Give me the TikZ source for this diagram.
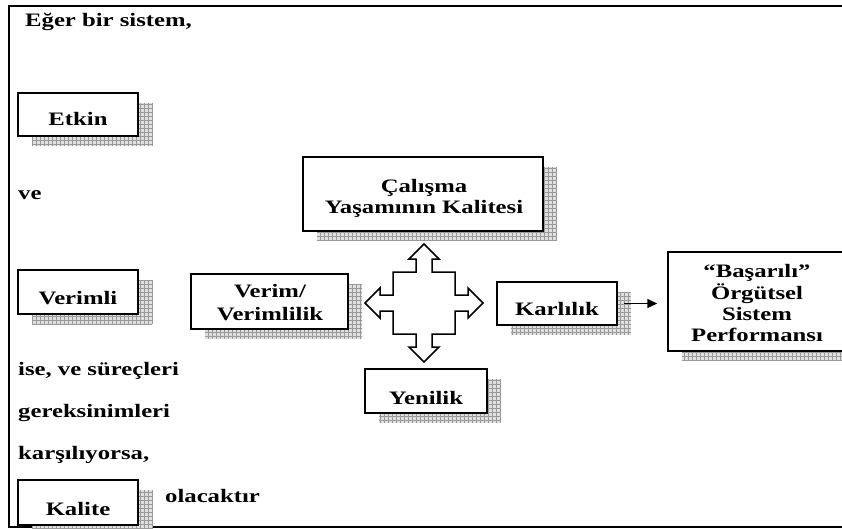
\documentclass[tikz,border=0pt]{standalone}
\usepackage{fontspec}
\setmainfont{Liberation Serif}[FakeStretch=1.3]
\usetikzlibrary{arrows.meta}
\newcommand\shbox[5]{%
  \fill[shadowfill] ({#2+14},{#3+10}) rectangle ({#4+14},{#5+10});
  \draw[shadowgrid] ({#2+14},{#3+10}) grid ({#4+14},{#5+10});
  \node[boxstyle, minimum width={(#4-#2)*1pt}, minimum height={(#5-#3)*1pt}] (#1) at ({(#2+#4)/2},{(#3+#5)/2}) {};
}
\begin{document}
\begin{tikzpicture}[x=1pt,y=-1pt,
  shadowfill/.style={fill=gray!25},
  shadowgrid/.style={draw=gray!80, line width=0.7pt, step=4pt},
  boxstyle/.style={draw=black, fill=white, line width=1.5pt, inner sep=0pt, rectangle},
  lbl/.style={font=\bfseries\fontsize{19}{21}\selectfont, inner sep=0pt, anchor=base, text=black},
  freetxt/.style={font=\bfseries\fontsize{19}{21}\selectfont, inner sep=0pt, anchor=base west, text=black},
  conn/.style={line width=1.5pt, -{Triangle[length=10pt,width=9pt]}}
]
\useasboundingbox (0,0) rectangle (842,529);
% outer frame
\draw[line width=2pt] (860,6) -- (9,6) -- (9,527) -- (860,527);

% left column
\node[freetxt] (t1) at (25,27) {Eğer bir sistem,};
\shbox{etkin}{18}{93}{138}{136}
\node[lbl] (etkinl) at (78,126) {Etkin};
\node[freetxt] (t2) at (18,200) {ve};
\shbox{verimli}{18}{270}{138}{314}
\node[lbl] (verimlil) at (78,304) {Verimli};
\node[freetxt] (t3) at (18,375) {ise, ve süreçleri};
\node[freetxt] (t4) at (18,417) {gereksinimleri};
\node[freetxt] (t5) at (18,459) {karşılıyorsa,};
\shbox{kalite}{18}{480}{138}{525}
\node[lbl] (kalitel) at (78,515) {Kalite};
\node[freetxt] (t6) at (165,502) {olacaktır};

% central boxes
\shbox{verim}{191}{274}{348}{329}
\node[lbl] (veriml) at (270,297) {\begin{tabular}[t]{@{}c@{}}Verim/\\[2pt] Verimlilik\end{tabular}};
\shbox{calisma}{303}{157}{543}{231}
\node[lbl] (calismal) at (424,193) {\begin{tabular}[t]{@{}c@{}}Çalışma\\ Yaşamının Kalitesi\end{tabular}};
\shbox{yenilik}{365}{369}{487}{413}
\node[lbl] (yenilikl) at (426,404) {Yenilik};
\shbox{karlilik}{497}{282}{617}{325}
\node[lbl] (karlilikl) at (557,315) {Karlılık};
\shbox{basarili}{668}{252}{860}{351}
\node[lbl] (basarilil) at (757,277) {\begin{tabular}[t]{@{}c@{}}“Başarılı”\\ Örgütsel\\ Sistem\\ Performansı\end{tabular}};

% four-way arrow
\begin{scope}[shift={(424,303)}]
\draw[line width=1.5pt, fill=white, line join=miter]
  (0,-59) -- (15,-44) -- (8,-44) -- (8,-31) -- (31,-31) -- (31,-8) -- (44,-8) -- (44,-15) -- (59,0)
  -- (44,15) -- (44,8) -- (31,8) -- (31,31) -- (8,31) -- (8,44) -- (15,44) -- (0,59)
  -- (-15,44) -- (-8,44) -- (-8,31) -- (-31,31) -- (-31,8) -- (-44,8) -- (-44,15) -- (-59,0)
  -- (-44,-15) -- (-44,-8) -- (-31,-8) -- (-31,-31) -- (-8,-31) -- (-8,-44) -- (-15,-44) -- cycle;
\end{scope}

% connector
\draw[conn] ([xshift=6pt]karlilik.east) -- ([xshift=-10pt]basarili.west |- karlilik.east);
\end{tikzpicture}
\end{document}
